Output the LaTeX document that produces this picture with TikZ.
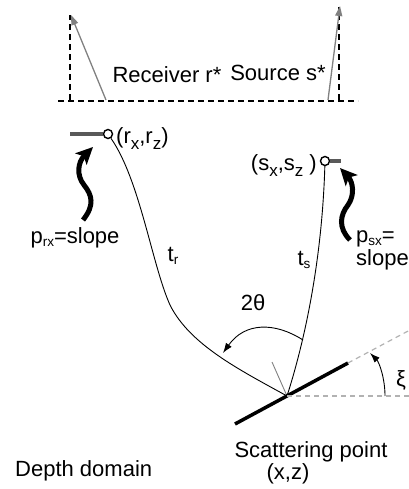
\documentclass[tikz,border=0pt]{standalone}
\usepackage{fontspec}
\setmainfont{Liberation Sans}
\usetikzlibrary{arrows.meta}
\newcommand{\bigsub}[1]{\raisebox{-6pt}{\fontsize{17}{17}\selectfont #1}}
\newcommand{\smallsub}[1]{\raisebox{-3.5pt}{\fontsize{13.5}{14}\selectfont #1}}
\begin{document}
\begin{tikzpicture}[x=1pt,y=-1pt,
  font=\fontsize{22}{26}\selectfont,
  blkdash/.style={dash pattern=on 6pt off 4pt, line width=1.3pt},
  graydash/.style={draw=gray!60, dash pattern=on 5pt off 4pt, line width=1.2pt},
  grayarrow/.style={draw=gray, line width=1.3pt, -{Triangle[length=10pt,width=7pt,fill=gray]}},
  ray/.style={line width=0.9pt},
  anglearrow/.style={line width=0.9pt, -{Latex[length=10pt,width=7pt]}},
  curly/.style={line width=5pt, -{Stealth[length=17pt,width=16pt,inset=4pt]}},
  station/.style={circle, draw, line width=1.4pt, minimum size=9pt, inner sep=0pt},
  bar/.style={draw=gray!70!black, line width=4pt},
  lbl/.style={inner sep=0pt}]
\useasboundingbox (0,0) rectangle (408,489);
% top panel
\coordinate (hl) at (58,101); \coordinate (hr) at (358,101);
\draw[blkdash] (hl) -- (hr);
\coordinate (lvt) at (70,15); \coordinate (lvb) at (70,100);
\draw[blkdash] (lvb) -- (lvt);
\coordinate (rvt) at (339,7); \coordinate (rvb) at (339,100);
\draw[blkdash] (rvb) -- (rvt);
\coordinate (ra0) at (106,100); \coordinate (ra1) at (71,15);
\draw[grayarrow] (ra0) -- (ra1);
\coordinate (sa0) at (328,100); \coordinate (sa1) at (340,6);
\draw[grayarrow] (sa0) -- (sa1);
\node[lbl, anchor=base] (rstar) at (167,83) {Receiver r*};
\node[lbl, anchor=base] (sstar) at (278,81) {Source s*};
% stations
\node[station] (rec) at (108,134) {};
\coordinate (recbar) at (70,134);
\draw[bar] (recbar) -- (rec.west);
\node[station] (src) at (325,161) {};
\coordinate (srcbar) at (341,161);
\draw[bar] (src.east) -- (srcbar);
\node[lbl, anchor=base west] (reclbl) at (116,143) {(r\bigsub{x},r\bigsub{z})};
\node[lbl, anchor=base east] (srclbl) at (317,170) {(s\bigsub{x},s\bigsub{z} )};
% rays
\coordinate (sp) at (287,396);
\coordinate (rmid) at (170,305);
\draw[ray] (rec) .. controls (140,180) and (152,265) .. (rmid) .. controls (190,345) and (240,370) .. (sp);
\draw[ray] (src) .. controls (322,260) and (305,340) .. (sp);
% 2theta
\coordinate (a2s) at (303,340); \coordinate (a2e) at (223,353);
\draw[anglearrow] (a2s) .. controls (275,322) and (245,322) .. (a2e);
\node[lbl, anchor=base] (ang) at (253,310) {2θ};
% normal
\coordinate (nrm) at (272,362);
\draw[gray, line width=0.9pt] (sp) -- (nrm);
% reflector
\coordinate (rf0) at (235,424); \coordinate (rf1) at (348,363);
\draw[line width=3.5pt] (rf0) -- (rf1);
\coordinate (rf2) at (410,330);
\draw[graydash] (rf1) -- (rf2);
\coordinate (hz) at (410,396);
\draw[graydash] (sp) -- (hz);
\coordinate (x0) at (385,396); \coordinate (x1) at (370,353);
\draw[anglearrow] (x0) .. controls (385,378) and (379,362) .. (x1);
\node[lbl] (xi) at (401,380) {ξ};
% curly arrows
\coordinate (lc0) at (83,220); \coordinate (lc1) at (93,147);
\draw[curly] (lc0) .. controls (95,205) and (92,195) .. (84,185) .. controls (76,175) and (78,162) .. (lc1);
\coordinate (rc0) at (350,240); \coordinate (rc1) at (340,168);
\draw[curly] (rc0) .. controls (338,228) and (340,215) .. (348,205) .. controls (355,195) and (353,182) .. (rc1);
% labels
\node[lbl, anchor=base] (prx) at (75,243) {p\smallsub{rx}=slope};
\node[lbl, anchor=base] (tr) at (173,261) {t\smallsub{r}};
\node[lbl, anchor=base] (ts) at (304,265) {t\smallsub{s}};
\node[lbl, anchor=base west] (psx) at (356,242) {p\smallsub{sx}=};
\node[lbl, anchor=base west] (slope2) at (356,265) {slope};
\node[lbl, anchor=base] (scat) at (311,457) {Scattering point};
\node[lbl, anchor=base] (xz) at (288,479) {(x,z)};
\node[lbl, anchor=base west] (depth) at (15,476) {Depth domain};
\end{tikzpicture}
\end{document}
